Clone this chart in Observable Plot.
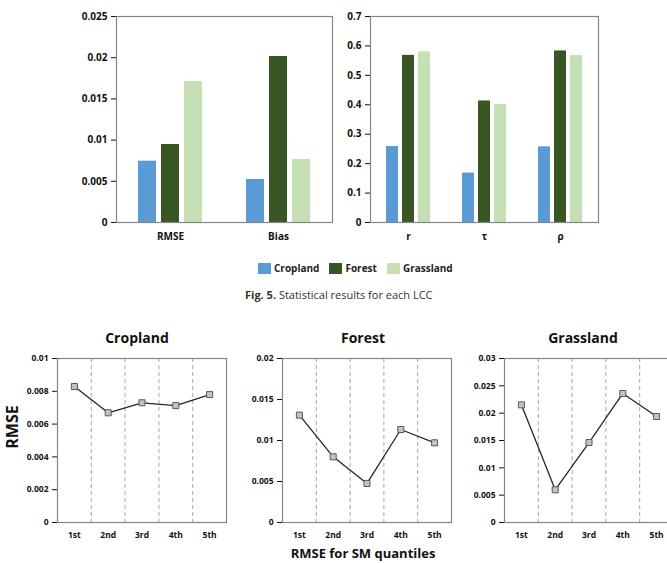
<!DOCTYPE html>
<html>
<head>
<meta charset="utf-8">
<script src="https://cdn.jsdelivr.net/npm/d3@7"></script>
<script src="https://cdn.jsdelivr.net/npm/@observablehq/plot@0.6"></script>
<style>
  body { margin: 0; background: #fff; }
  #fig { position: relative; width: 667px; height: 563px; overflow: hidden; background: #fff;
         font-family: "Open Sans", sans-serif; color: #111; }
  .panel-title { position: absolute; width: 200px; text-align: center; font-weight: bold;
                 font-size: 14px; line-height: 20px; color: #111; }
  .caption { position: absolute; font-size: 11px; color: #333; white-space: nowrap; }
  .caption b { font-weight: bold; }
  .lcc-swatches { margin: 0 !important; min-height: 0 !important; font-family: "Open Sans", sans-serif !important;
                  font-size: 10px !important; font-weight: bold; color: #222; }
  .lcc-swatch { margin-right: 10px !important; }
  .lcc-swatch > svg { margin-right: 3px !important; }
</style>
</head>
<body>
<div id="fig"></div>
<script>
// Land-cover classes and their bar colours
const classes = ["Cropland", "Forest", "Grassland"];
const classColors = ["#5b9bd5", "#375623", "#c5e0b4"];

// Error statistics per class
const errorMetrics = ["RMSE", "Bias"];
const errorCropland = [0.00744, 0.00522];
const errorForest = [0.00947, 0.02015];
const errorGrassland = [0.01711, 0.00765];
const errorTicks = [0, 0.005, 0.01, 0.015, 0.02, 0.025];

// Correlation statistics per class
const corrMetrics = ["r", "τ", "ρ"];
const corrCropland = [0.258, 0.168, 0.257];
const corrForest = [0.568, 0.413, 0.583];
const corrGrassland = [0.580, 0.401, 0.567];
const corrTicks = [0, 0.1, 0.2, 0.3, 0.4, 0.5, 0.6, 0.7];

// RMSE by soil-moisture quantile
const quantiles = ["1st", "2nd", "3rd", "4th", "5th"];
const rmseCropland = [0.00829, 0.00669, 0.00730, 0.00713, 0.00780];
const rmseForest = [0.01309, 0.00801, 0.00476, 0.01134, 0.00972];
const rmseGrassland = [0.02152, 0.00598, 0.01463, 0.02360, 0.01939];
const croplandTicks = [0, 0.002, 0.004, 0.006, 0.008, 0.01];
const forestTicks = [0, 0.005, 0.01, 0.015, 0.02];
const grasslandTicks = [0, 0.005, 0.01, 0.015, 0.02, 0.025, 0.03];

const fig = document.getElementById("fig");
function place(node, left, top) {
  node.style.position = "absolute";
  node.style.left = left + "px";
  node.style.top = top + "px";
  fig.appendChild(node);
  return node;
}
function label(cls, text, left, top) {
  const d = document.createElement("div");
  d.className = cls;
  d.textContent = text;
  return place(d, left, top);
}

const axisFont = (size) => ({
  fontFamily: "'Open Sans', sans-serif", fontWeight: "bold", fontSize: size + "px",
  color: "#111", background: "transparent", overflow: "visible"
});

function groupedRows(metrics, series) {
  return metrics.flatMap((metric, i) =>
    classes.map((cls, j) => ({metric, cls, value: series[j][i]})));
}

function groupedBars(metrics, series, ticks, width, marginLeft, marginRight, fxSize) {
  return Plot.plot({
    width, height: 250, marginLeft, marginRight, marginTop: 16, marginBottom: 28,
    style: axisFont(10),
    fx: {domain: metrics, padding: 0, axis: "bottom", label: null, tickSize: 0, tickPadding: 10, fontSize: fxSize},
    x: {domain: classes, paddingInner: 0.22, paddingOuter: 0.87, axis: null},
    y: {domain: [ticks[0], ticks[ticks.length - 1]], ticks, tickFormat: (d) => String(d),
        tickSize: 5, tickPadding: 4, label: null},
    color: {domain: classes, range: classColors},
    marks: [
      Plot.barY(groupedRows(metrics, series), {fx: "metric", x: "cls", y: "value", fill: "cls"}),
      Plot.frame({facet: "super", stroke: "#858585", strokeWidth: 1.2})
    ]
  });
}

function quantileLine(values, ticks) {
  const rows = quantiles.map((q, i) => ({q, pos: i + 1, value: values[i]}));
  const bounds = quantiles.slice(1).map((_, i) => i + 1.5);
  return Plot.plot({
    width: 235, height: 210, marginLeft: 57, marginRight: 9, marginTop: 13, marginBottom: 33,
    style: axisFont(8.5),
    x: {domain: [0.5, quantiles.length + 0.5], ticks: rows.map((d) => d.pos),
        tickFormat: (p) => quantiles[p - 1], tickSize: 0, tickPadding: 9, label: null},
    y: {domain: [0, ticks[ticks.length - 1]], ticks, tickFormat: (d) => String(d),
        tickSize: 5, tickPadding: 4, label: null},
    marks: [
      Plot.ruleX(bounds, {stroke: "#a6a6a6", strokeDasharray: "4,3"}),
      Plot.frame({stroke: "#858585", strokeWidth: 1.2}),
      Plot.line(rows, {x: "pos", y: "value", stroke: "#262626", strokeWidth: 1.3}),
      Plot.dot(rows, {x: "pos", y: "value", symbol: "square", r: 3.4,
                      fill: "#c3c3c3", stroke: "#595959", strokeWidth: 1})
    ]
  });
}

// Fig. 5 — grouped bars
place(groupedBars(errorMetrics, [errorCropland, errorForest, errorGrassland], errorTicks, 340, 116, 8, 10), 0, 0);
place(groupedBars(corrMetrics, [corrCropland, corrForest, corrGrassland], corrTicks, 327, 30, 69, 12), 340, 0);

const legend = Plot.legend({
  color: {domain: classes, range: classColors}, legend: "swatches",
  swatchWidth: 13, swatchHeight: 11, className: "lcc"
});
place(legend, 258, 261);

const caption = document.createElement("div");
caption.className = "caption";
caption.innerHTML = "<b>Fig. 5.</b> Statistical results for each LCC";
place(caption, 245, 287);

// RMSE for SM quantiles — one panel per class
place(quantileLine(rmseCropland, croplandTicks), 0, 345);
place(quantileLine(rmseForest, forestTicks), 225, 345);
place(quantileLine(rmseGrassland, grasslandTicks), 447, 345);

label("panel-title", "Cropland", 137 - 100, 328);
label("panel-title", "Forest", 363 - 100, 328);
label("panel-title", "Grassland", 583 - 100, 328);

const yTitle = label("y-title", "RMSE", 12, 427);
Object.assign(yTitle.style, {transform: "translate(-50%, -50%) rotate(-90deg)", fontWeight: "bold",
  fontSize: "16px", whiteSpace: "nowrap", lineHeight: "18px"});

const xTitle = label("x-title", "RMSE for SM quantiles", 363, 553);
Object.assign(xTitle.style, {transform: "translate(-50%, -50%)", fontWeight: "bold",
  fontSize: "13px", whiteSpace: "nowrap", lineHeight: "16px"});
</script>
</body>
</html>
